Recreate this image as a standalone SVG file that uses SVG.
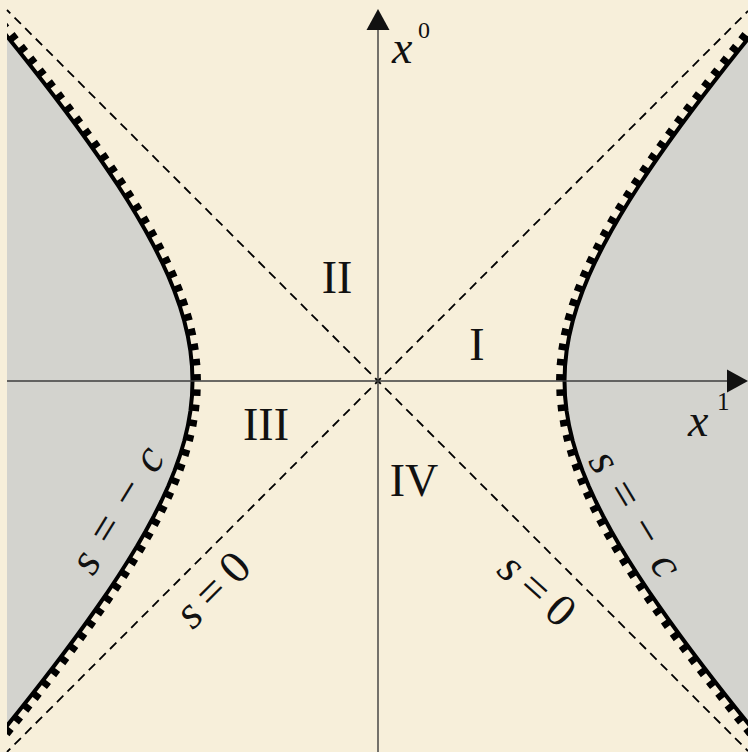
<svg xmlns="http://www.w3.org/2000/svg" xmlns:xlink="http://www.w3.org/1999/xlink" width="748" height="752" viewBox="0 0 748 752">
<style>
.curve{fill:none;stroke:#000;stroke-width:4;stroke-linejoin:round}
.ticks{fill:none;stroke:#000;stroke-width:17;stroke-dasharray:6.5 8.5;stroke-linejoin:round}
.asym{fill:none;stroke:#000;stroke-width:1.8;stroke-dasharray:9 6;stroke-dashoffset:5}
.axis{stroke:#3c3c3c;stroke-width:1.4}
.lbl{font-family:"Liberation Serif","Times New Roman",serif;font-size:46px;fill:#111}
.it{font-style:italic}
.gray{fill:#d3d3ce}
</style>
<defs>
<path id="R" d="M787.06,-9 L774.66,6 L762.36,21 L750.18,36 L738.14,51 L726.24,66 L714.5,81 L702.94,96 L691.58,111 L680.44,126 L669.55,141 L658.93,156 L648.62,171 L638.65,186 L629.07,201 L619.92,216 L611.25,231 L603.11,246 L595.58,261 L588.71,276 L582.57,291 L577.22,306 L572.74,321 L569.18,336 L566.59,351 L565.03,366 L564.5,381 L565.03,396 L566.59,411 L569.18,426 L572.74,441 L577.22,456 L582.57,471 L588.71,486 L595.58,501 L603.11,516 L611.25,531 L619.92,546 L629.07,561 L638.65,576 L648.62,591 L658.93,606 L669.55,621 L680.44,636 L691.58,651 L702.94,666 L714.5,681 L726.24,696 L738.14,711 L750.18,726 L762.36,741 L774.66,756 L787.06,771"/>
<path id="L" d="M-30.06,-9 L-17.66,6 L-5.36,21 L6.82,36 L18.86,51 L30.76,66 L42.5,81 L54.06,96 L65.42,111 L76.56,126 L87.45,141 L98.07,156 L108.38,171 L118.35,186 L127.93,201 L137.08,216 L145.75,231 L153.89,246 L161.42,261 L168.29,276 L174.43,291 L179.78,306 L184.26,321 L187.82,336 L190.41,351 L191.97,366 L192.5,381 L191.97,396 L190.41,411 L187.82,426 L184.26,441 L179.78,456 L174.43,471 L168.29,486 L161.42,501 L153.89,516 L145.75,531 L137.08,546 L127.93,561 L118.35,576 L108.38,591 L98.07,606 L87.45,621 L76.56,636 L65.42,651 L54.06,666 L42.5,681 L30.76,696 L18.86,711 L6.82,726 L-5.36,741 L-17.66,756 L-30.06,771"/>
<clipPath id="inner"><rect x="7" y="0" width="741" height="752"/></clipPath>
<clipPath id="beige"><path clip-rule="evenodd" d="M-200,-50 H950 V800 H-200 Z M787.06,-9 L774.66,6 L762.36,21 L750.18,36 L738.14,51 L726.24,66 L714.5,81 L702.94,96 L691.58,111 L680.44,126 L669.55,141 L658.93,156 L648.62,171 L638.65,186 L629.07,201 L619.92,216 L611.25,231 L603.11,246 L595.58,261 L588.71,276 L582.57,291 L577.22,306 L572.74,321 L569.18,336 L566.59,351 L565.03,366 L564.5,381 L565.03,396 L566.59,411 L569.18,426 L572.74,441 L577.22,456 L582.57,471 L588.71,486 L595.58,501 L603.11,516 L611.25,531 L619.92,546 L629.07,561 L638.65,576 L648.62,591 L658.93,606 L669.55,621 L680.44,636 L691.58,651 L702.94,666 L714.5,681 L726.24,696 L738.14,711 L750.18,726 L762.36,741 L774.66,756 L787.06,771 L900,771 L900,-9 Z M-30.06,-9 L-17.66,6 L-5.36,21 L6.82,36 L18.86,51 L30.76,66 L42.5,81 L54.06,96 L65.42,111 L76.56,126 L87.45,141 L98.07,156 L108.38,171 L118.35,186 L127.93,201 L137.08,216 L145.75,231 L153.89,246 L161.42,261 L168.29,276 L174.43,291 L179.78,306 L184.26,321 L187.82,336 L190.41,351 L191.97,366 L192.5,381 L191.97,396 L190.41,411 L187.82,426 L184.26,441 L179.78,456 L174.43,471 L168.29,486 L161.42,501 L153.89,516 L145.75,531 L137.08,546 L127.93,561 L118.35,576 L108.38,591 L98.07,606 L87.45,621 L76.56,636 L65.42,651 L54.06,666 L42.5,681 L30.76,696 L18.86,711 L6.82,726 L-5.36,741 L-17.66,756 L-30.06,771 L-150,771 L-150,-9 Z"/></clipPath>
</defs>
<rect id="background" x="0" y="0" width="748" height="752" fill="#f7efda"/>
<g id="regions" clip-path="url(#inner)">
<path class="gray" d="M787.06,-9 L774.66,6 L762.36,21 L750.18,36 L738.14,51 L726.24,66 L714.5,81 L702.94,96 L691.58,111 L680.44,126 L669.55,141 L658.93,156 L648.62,171 L638.65,186 L629.07,201 L619.92,216 L611.25,231 L603.11,246 L595.58,261 L588.71,276 L582.57,291 L577.22,306 L572.74,321 L569.18,336 L566.59,351 L565.03,366 L564.5,381 L565.03,396 L566.59,411 L569.18,426 L572.74,441 L577.22,456 L582.57,471 L588.71,486 L595.58,501 L603.11,516 L611.25,531 L619.92,546 L629.07,561 L638.65,576 L648.62,591 L658.93,606 L669.55,621 L680.44,636 L691.58,651 L702.94,666 L714.5,681 L726.24,696 L738.14,711 L750.18,726 L762.36,741 L774.66,756 L787.06,771 L900,771 L900,-9 Z"/>
<path class="gray" d="M-30.06,-9 L-17.66,6 L-5.36,21 L6.82,36 L18.86,51 L30.76,66 L42.5,81 L54.06,96 L65.42,111 L76.56,126 L87.45,141 L98.07,156 L108.38,171 L118.35,186 L127.93,201 L137.08,216 L145.75,231 L153.89,246 L161.42,261 L168.29,276 L174.43,291 L179.78,306 L184.26,321 L187.82,336 L190.41,351 L191.97,366 L192.5,381 L191.97,396 L190.41,411 L187.82,426 L184.26,441 L179.78,456 L174.43,471 L168.29,486 L161.42,501 L153.89,516 L145.75,531 L137.08,546 L127.93,561 L118.35,576 L108.38,591 L98.07,606 L87.45,621 L76.56,636 L65.42,651 L54.06,666 L42.5,681 L30.76,696 L18.86,711 L6.82,726 L-5.36,741 L-17.66,756 L-30.06,771 L-150,771 L-150,-9 Z"/>
</g>
<g id="asymptotes">
<line class="asym" x1="378" y1="381" x2="7" y2="10"/>
<line class="asym" x1="378" y1="381" x2="748" y2="751"/>
<line class="asym" x1="378" y1="381" x2="7" y2="752"/>
<line class="asym" x1="378" y1="381" x2="748" y2="11"/>
</g>
<g id="hyperbolas" clip-path="url(#inner)">
<g clip-path="url(#beige)">
<use href="#R" class="ticks"/>
<use href="#L" class="ticks"/>
</g>
<use href="#R" class="curve"/>
<use href="#L" class="curve"/>
</g>
<g id="axes">
<line class="axis" x1="7" y1="381" x2="730" y2="381"/>
<polygon points="748,381 727,369.5 727,392.5" fill="#111"/>
<line class="axis" x1="378" y1="752" x2="378" y2="28"/>
<polygon points="378,9 366.5,30 389.5,30" fill="#111"/>
</g>
<g id="labels" class="lbl">
<text x="392" y="63"><tspan class="it">x</tspan></text>
<text x="418" y="38" font-size="24">0</text>
<text x="688" y="436"><tspan class="it">x</tspan></text>
<text x="717" y="410" font-size="25">1</text>
<text x="337" y="293" text-anchor="middle">II</text>
<text x="477" y="360" text-anchor="middle">I</text>
<text x="266" y="440" text-anchor="middle">III</text>
<text x="414" y="496" text-anchor="middle">IV</text>
<text transform="translate(121,512) rotate(-58.5)" x="-70" y="10" textLength="140" lengthAdjust="spacing"><tspan class="it">s</tspan>=−<tspan class="it">c</tspan></text>
<text transform="translate(632,516) rotate(59)" x="-70" y="10" textLength="140" lengthAdjust="spacing"><tspan class="it">s</tspan>=−<tspan class="it">c</tspan></text>
<text transform="translate(214,591) rotate(-45)" x="-43" y="13" textLength="86" lengthAdjust="spacing"><tspan class="it">s</tspan>=0</text>
<text transform="translate(536,591) rotate(42)" x="-43" y="13" textLength="86" lengthAdjust="spacing"><tspan class="it">s</tspan>=0</text>
</g>
</svg>
